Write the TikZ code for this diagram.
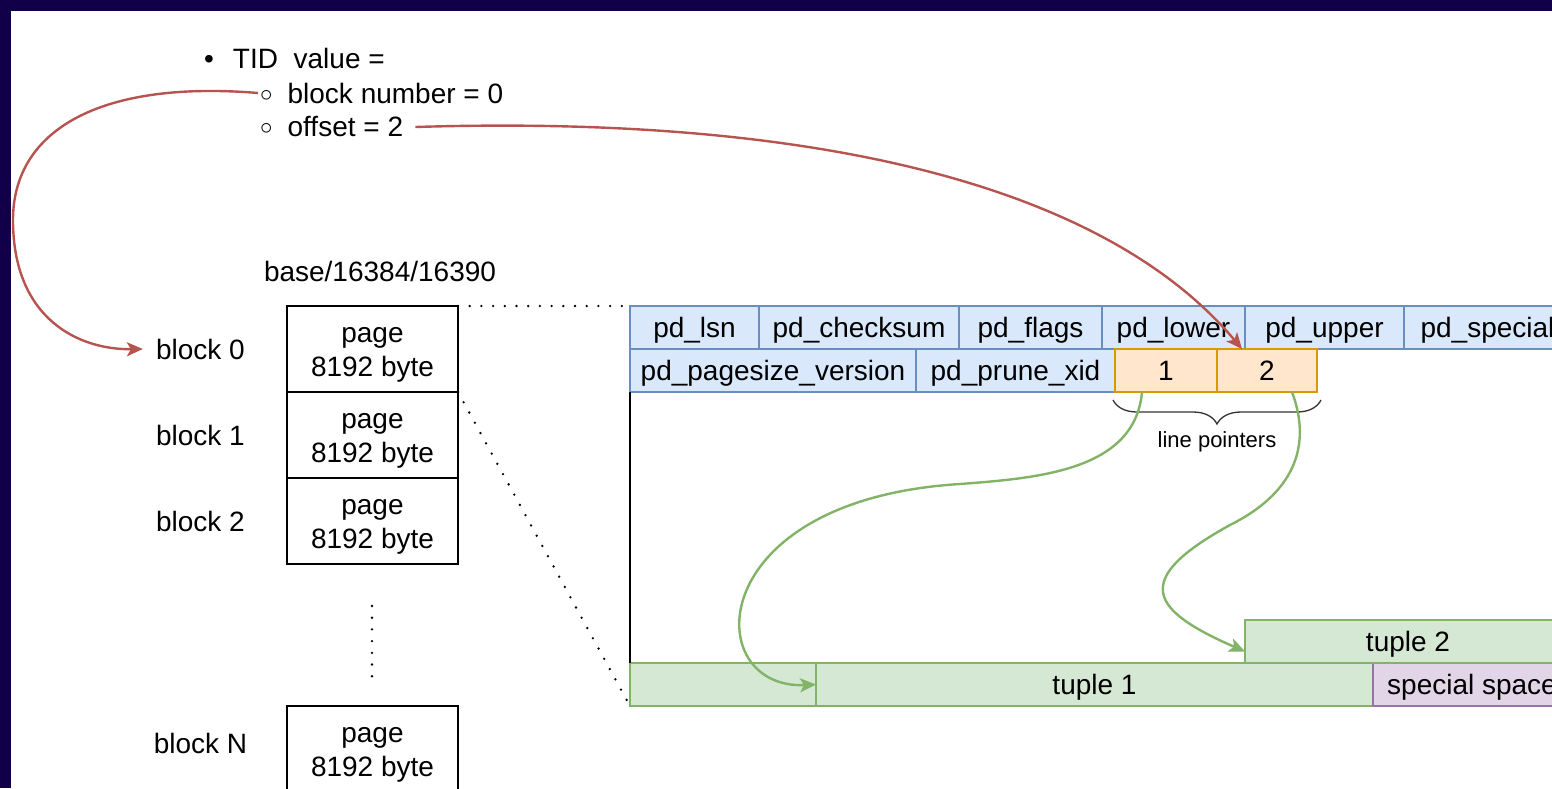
\documentclass[tikz,border=0pt]{standalone}
\usepackage{fontspec}
\setmainfont{Liberation Sans}
\usepackage{tikz}
\usetikzlibrary{positioning}
\usetikzlibrary{arrows.meta}
\usetikzlibrary{decorations.pathreplacing}

\definecolor{framec}{RGB}{17,0,73}
\definecolor{hdrfill}{HTML}{DAE8FC}
\definecolor{hdrline}{HTML}{6C8EBF}
\definecolor{lpfill}{HTML}{FFE6CC}
\definecolor{lpline}{HTML}{D79B00}
\definecolor{tupfill}{HTML}{D5E8D4}
\definecolor{tupline}{HTML}{82B366}
\definecolor{spcfill}{HTML}{E1D5E7}
\definecolor{spcline}{HTML}{9673A6}
\definecolor{redc}{HTML}{B85450}

\newcommand{\subbullet}{\raisebox{2pt}{\fontsize{27}{27}\selectfont$\circ$}}

\begin{document}
\begin{tikzpicture}[x=1pt, y=-1pt, node distance=0pt,
    txt/.style = {inner sep=0pt, font=\fontsize{28}{34}\selectfont},
    pagebox/.style = {draw, line width=1.5pt, minimum width=171pt, minimum height=86pt, align=center, inner sep=0pt, outer sep=0pt, font=\fontsize{28}{34}\selectfont},
    cell/.style = {draw, line width=1.3pt, minimum height=43pt, inner sep=0pt, outer sep=0pt, text height=20pt, text depth=0pt, font=\fontsize{28}{34}\selectfont},
    hdr/.style = {cell, draw=hdrline, fill=hdrfill},
    lp/.style = {cell, draw=lpline, fill=lpfill},
    tup/.style = {cell, draw=tupline, fill=tupfill},
    spc/.style = {cell, draw=spcline, fill=spcfill},
    dots/.style = {line width=2.6pt, line cap=round, dash pattern=on 0pt off 11.7pt},
    redarrow/.style = {draw=redc, line width=2.4pt, -{Stealth[length=16pt, width=14pt, inset=4pt]}},
    greenarrow/.style = {draw=tupline, line width=2.4pt, -{Stealth[length=16pt, width=14pt, inset=4pt]}}]

    \useasboundingbox (0,0) rectangle (1552,788);
    \clip (0,0) rectangle (1552,788);
    \fill[framec] (0,0) rectangle (1552,788);
    \fill[white] (11,11) rectangle (1560,800);

    \node[txt, anchor=west] (tid) at (204,58) {\textbullet\hspace{19pt}TID~~value =};
    \node[txt, anchor=west] (bn) at (260,93) {\subbullet\hspace{15pt}block number = 0};
    \node[txt, anchor=west] (off) at (260,127) {\subbullet\hspace{15pt}offset = 2};

    \node[txt] (base) at (380,271) {base/16384/16390};
    \node[pagebox] (p0) at (372.5,349) {\rule{0pt}{26pt}page\\8192 byte};
    \node[pagebox, below=of p0] (p1) {\rule{0pt}{26pt}page\\8192 byte};
    \node[pagebox, below=of p1] (p2) {\rule{0pt}{26pt}page\\8192 byte};
    \node[pagebox] (pN) at (372.5,749) {\rule{0pt}{26pt}page\\8192 byte};
    \node[txt, left=42pt of p0] (b0) {block 0};
    \node[txt, left=42pt of p1] (b1) {block 1};
    \node[txt, left=42pt of p2] (b2) {block 2};
    \node[txt] (bN) at (200.5,743) {block N};
    \draw[dots] (372,606) -- (372,678);

    \node[hdr, minimum width=129pt, anchor=north west] (lsn) at (630,306) {pd\_lsn};
    \node[hdr, minimum width=200pt, right=of lsn] (cks) {pd\_checksum};
    \node[hdr, minimum width=143pt, right=of cks] (flg) {pd\_flags};
    \node[hdr, minimum width=143pt, right=of flg] (low) {pd\_lower};
    \node[hdr, minimum width=159pt, right=of low] (upp) {pd\_upper};
    \node[hdr, minimum width=167pt, right=of upp] (spl) {pd\_special};
    \node[hdr, minimum width=286pt, below right=of lsn.south west] (psv) {pd\_pagesize\_version};
    \node[hdr, minimum width=199pt, right=of psv] (prx) {pd\_prune\_xid};
    \node[lp, minimum width=102pt, right=of prx] (c1) {1};
    \node[lp, minimum width=100pt, right=of c1] (c2) {2};

    \node[tup, minimum width=186pt, anchor=south west] (free) at (630,706) {};
    \node[tup, minimum width=557pt, right=of free] (t1) {tuple 1};
    \node[spc, minimum width=198pt, right=of t1] (sps) {special space};
    \node[tup, minimum width=326pt, anchor=south west] (t2) at (upp.west |- t1.north) {tuple 2};

    \draw[line width=1.3pt] (psv.south west) -- (free.north west);
    \draw[dots] (p0.north east) -- (lsn.north west);
    \draw[dots] (p0.south east) -- (free.south west);

    \draw[decorate, decoration={brace, mirror, amplitude=24pt}, line width=1.3pt, draw=black!80]
        ([xshift=-2pt, yshift=-8pt]c1.south west) -- ([xshift=4pt, yshift=-8pt]c2.south east);
    \node[inner sep=0pt, font=\fontsize{22}{26}\selectfont] (lpl) at ([yshift=-50pt]c2.south west) {line pointers};

    \coordinate (loopL) at (13,220);
    \coordinate (g1) at (960,484);
    \coordinate (g2) at (1230,525);

    \draw[redarrow] ([xshift=-2pt]bn.west) .. controls (100,80) and (13,130) .. (loopL)
        .. controls (13,320) and (80,350) .. ([xshift=-13pt]b0.west);
    \draw[redarrow] ([xshift=12pt]off.east) .. controls (800,115) and (1100,180) .. ([xshift=-25pt]c2.north);
    \draw[greenarrow] ([xshift=-24pt]c1.south) .. controls (1135,470) and (1040,478) .. (g1)
        .. controls (700,500) and (700,690) .. (t1.west);
    \draw[greenarrow] ([xshift=25pt]c2.south) .. controls (1310,440) and (1300,490) .. (g2)
        .. controls (1130,580) and (1150,610) .. ([yshift=-10pt]t2.west);

\end{tikzpicture}
\end{document}
